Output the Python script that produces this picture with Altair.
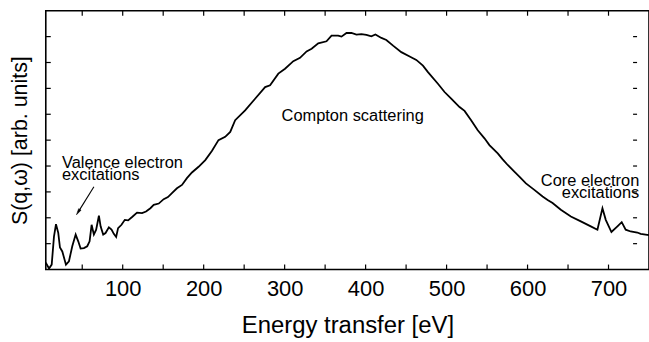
import altair as alt
import pandas as pd

# ---- data ----
energy = [5.0, 9.0, 12.3, 15.1, 17.6, 20.4, 22.5, 25.4, 29.9, 33.6, 37.7, 41.9, 45.1, 48.0,
          52.1, 56.2, 59.1, 61.6, 64.4, 67.2, 70.6, 72.7, 75.9, 78.8, 82.9, 86.2, 89.0, 91.9,
          94.3, 98.5, 102.6, 106.7, 111.6, 117.7, 123.9, 128.8, 134.2, 138.3, 144.5, 150.6,
          155.9, 160.8, 167.0, 173.2, 179.3, 185.5, 193.7, 202.0, 210.1, 218.3, 226.6, 232.8,
          238.9, 251.2, 263.5, 275.9, 282.0, 292.2, 300.5, 310.7, 319.0, 327.1, 333.3, 341.5,
          351.7, 357.9, 366.1, 370.2, 376.4, 382.5, 388.7, 394.8, 401.0, 407.1, 412.1, 419.5,
          425.6, 433.9, 444.1, 454.4, 462.6, 470.8, 477.0, 489.3, 497.5, 505.7, 516.0, 522.2,
          530.3, 538.5, 546.8, 552.9, 563.2, 569.3, 575.5, 583.7, 589.9, 598.0, 608.4, 618.6,
          624.8, 630.9, 641.1, 653.5, 665.8, 678.1, 686.3, 692.5, 696.6, 703.6, 711.0, 716.3,
          721.2, 727.3, 735.6, 739.7, 745.8, 750.0]
intensity = [0.27, 0.04, 0.19, 1.27, 1.75, 1.42, 0.85, 0.70, 0.19, 0.32, 0.90, 1.35, 1.09, 0.81,
             0.83, 0.90, 1.09, 1.73, 1.35, 1.54, 2.08, 1.67, 1.35, 1.41, 1.63, 1.54, 1.38, 1.26,
             1.60, 1.73, 1.92, 1.90, 2.03, 2.20, 2.18, 2.24, 2.37, 2.50, 2.55, 2.72,
             2.80, 2.95, 3.14, 3.27, 3.53, 3.75, 3.97, 4.23, 4.58, 5.00, 5.13, 5.32,
             5.77, 6.15, 6.60, 7.05, 7.12, 7.57, 7.76, 8.05, 8.18, 8.43, 8.53, 8.74,
             8.82, 9.04, 9.04, 9.00, 9.14, 9.14, 9.08, 9.10, 9.07, 9.01, 9.08, 8.95,
             8.87, 8.65, 8.40, 8.23, 8.10, 7.88, 7.63, 7.18, 6.86, 6.60, 6.28, 6.13,
             5.77, 5.38, 5.07, 4.81, 4.49, 4.26, 4.04, 3.78, 3.59, 3.33, 3.08, 2.82,
             2.69, 2.57, 2.31, 2.05, 1.86, 1.67, 1.54, 2.37, 1.92, 1.45, 1.67, 1.83,
             1.54, 1.47, 1.43, 1.38, 1.35, 1.33]

x_tick_values = [50, 100, 150, 200, 250, 300, 350, 400, 450, 500, 550, 600, 650, 700]
x_label_values = [100, 200, 300, 400, 500, 600, 700]
y_tick_values = [1, 2, 3, 4, 5, 6, 7, 8, 9]

ann_text = ["Compton scattering", "Valence electron\nexcitations", "Core electron\nexcitations"]
ann_x = [384, 25, 738]
ann_y = [5.74, 3.92, 3.23]
ann_align = ["center", "left", "right"]

arrow_tail = (64.4, 3.20)
arrow_head = (45.0, 2.22)

FONT = "Liberation Sans"
W, H = 606, 260
XDOM = [5, 750]
YDOM = [0, 10]

xs = alt.Scale(domain=XDOM, nice=False, zero=False)
ys = alt.Scale(domain=YDOM, nice=False)

XAX = alt.Axis(title="Energy transfer [eV]", values=x_label_values, format="d",
               ticks=False, tickSize=0, domain=False, grid=False,
               labelFont=FONT, labelFontSize=22, labelColor="black",
               labelPadding=9, titleFont=FONT, titleFontSize=24,
               titleFontWeight="normal", titleColor="black", titlePadding=14)
YAX = alt.Axis(title="S(q,ω) [arb. units]", labels=False, ticks=False,
               tickSize=0, domain=False, grid=False, titleFont=FONT,
               titleFontSize=21.5, titleFontWeight="normal", titleColor="black",
               titlePadding=14)

curve = pd.DataFrame({"energy": energy, "S": intensity})

line = alt.Chart(curve).mark_line(color="black", strokeWidth=1.8, clip=True).encode(
    x=alt.X("energy:Q", scale=xs, axis=XAX),
    y=alt.Y("S:Q", scale=ys, axis=YAX),
)

xt = pd.DataFrame({"t": x_tick_values})
yt = pd.DataFrame({"t": y_tick_values})

bottom_ticks = alt.Chart(xt).mark_rule(color="black", strokeWidth=1.2).encode(
    x=alt.X("t:Q", scale=xs, axis=XAX), y=alt.value(H), y2=alt.value(H - 5))
top_ticks = alt.Chart(xt).mark_rule(color="black", strokeWidth=1.2).encode(
    x=alt.X("t:Q", scale=xs, axis=XAX), y=alt.value(0), y2=alt.value(5))
left_ticks = alt.Chart(yt).mark_rule(color="black", strokeWidth=1.2).encode(
    y=alt.Y("t:Q", scale=ys, axis=YAX), x=alt.value(0), x2=alt.value(5))
right_ticks = alt.Chart(yt).mark_rule(color="black", strokeWidth=1.2).encode(
    y=alt.Y("t:Q", scale=ys, axis=YAX), x=alt.value(590), x2=alt.value(594))

ann = pd.DataFrame({"text": ann_text, "x": ann_x, "y": ann_y, "align": ann_align})
texts = []
for i in range(len(ann_text)):
    texts.append(
        alt.Chart(ann.iloc[[i]]).mark_text(
            font=FONT, fontSize=16.5, color="black", align=ann_align[i],
            baseline="alphabetic", lineBreak="\n", lineHeight=12
        ).encode(x=alt.X("x:Q", scale=xs, axis=XAX), y=alt.Y("y:Q", scale=ys, axis=YAX),
                 text="text:N")
    )

arr = pd.DataFrame({"x": [arrow_tail[0]], "y": [arrow_tail[1]],
                    "x2": [arrow_head[0]], "y2": [arrow_head[1]]})
arrow_line = alt.Chart(arr).mark_rule(color="black", strokeWidth=1.1).encode(
    x=alt.X("x:Q", scale=xs, axis=XAX), y=alt.Y("y:Q", scale=ys, axis=YAX),
    x2="x2:Q", y2="y2:Q")
arrow_headm = alt.Chart(arr).mark_point(
    shape="M0,-1L0.45,1L-0.45,1Z", filled=True, fill="black", stroke="black",
    strokeWidth=0.5, size=40, angle=212, opacity=1
).encode(
    x=alt.X("x2:Q", scale=xs, axis=XAX), y=alt.Y("y2:Q", scale=ys, axis=YAX))

chart = alt.layer(line, bottom_ticks, top_ticks, left_ticks, right_ticks, *texts,
                  arrow_line, arrow_headm).properties(
    width=W, height=H,
    padding={"left": 46, "top": 10, "right": 0, "bottom": 72},
    autosize=alt.AutoSizeParams(type="none"),
    background="white",
).configure_view(stroke="black", strokeWidth=1.6)

chart.save("out.html", embed_options={"renderer": "svg", "actions": False})
